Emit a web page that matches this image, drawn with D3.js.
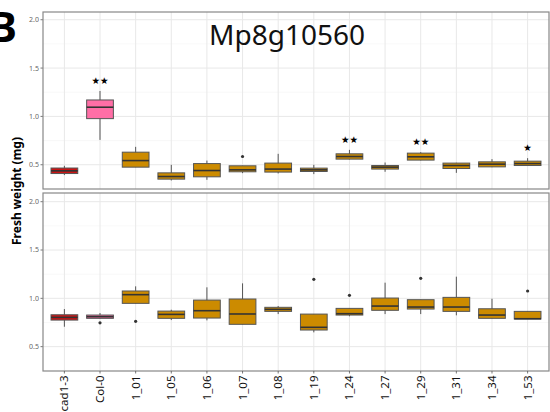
<!DOCTYPE html>
<html>
<head>
<meta charset="utf-8">
<script src="https://cdn.jsdelivr.net/npm/d3@7"></script>
<style>
  body { margin: 0; background: #fff; }
  svg { display: block; font-family: "Noto Sans", "Open Sans", sans-serif; }
</style>
</head>
<body>
<svg id="chart" width="550" height="412"></svg>
<script>
let genotypes = ['cad1-3', 'Col-0', '1_01', '1_05', '1_06', '1_07', '1_08',
  '1_19', '1_24', '1_27', '1_29', '1_31', '1_34', '1_53'];

// top panel: five number summaries
let topLow    = [0.393, 0.757, 0.475, 0.337, 0.344, 0.413, 0.410, 0.403, 0.555, 0.427, 0.545, 0.416, 0.475, 0.490];
let topQ1     = [0.409, 0.977, 0.475, 0.351, 0.375, 0.427, 0.424, 0.430, 0.558, 0.455, 0.548, 0.461, 0.478, 0.492];
let topMedian = [0.437, 1.095, 0.543, 0.378, 0.440, 0.447, 0.455, 0.447, 0.585, 0.475, 0.582, 0.492, 0.506, 0.512];
let topQ3     = [0.466, 1.170, 0.630, 0.416, 0.512, 0.489, 0.517, 0.465, 0.613, 0.492, 0.620, 0.517, 0.530, 0.537];
let topHigh   = [0.489, 1.263, 0.685, 0.499, 0.543, 0.489, 0.613, 0.499, 0.654, 0.523, 0.630, 0.520, 0.558, 0.568];
let topOutliers = [[], [], [], [], [], [0.585], [], [], [], [], [], [], [], []];
let topStars = ['', '★★', '', '', '', '', '', '', '★★', '', '★★', '', '', '★'];

// bottom panel
let bottomLow    = [0.706, 0.790, 0.948, 0.775, 0.772, 0.731, 0.837, 0.648, 0.814, 0.837, 0.837, 0.824, 0.793, 0.786];
let bottomQ1     = [0.775, 0.793, 0.948, 0.793, 0.796, 0.731, 0.865, 0.672, 0.827, 0.876, 0.889, 0.865, 0.793, 0.786];
let bottomMedian = [0.803, 0.810, 1.038, 0.834, 0.872, 0.838, 0.886, 0.700, 0.841, 0.920, 0.910, 0.910, 0.827, 0.789];
let bottomQ3     = [0.830, 0.827, 1.076, 0.868, 0.982, 0.993, 0.907, 0.837, 0.896, 1.003, 0.986, 1.010, 0.892, 0.865];
let bottomHigh   = [0.889, 0.848, 1.124, 0.882, 1.114, 1.155, 0.920, 0.837, 0.896, 1.162, 0.986, 1.224, 0.996, 0.865];
let bottomOutliers = [[], [0.747], [0.762], [], [], [], [], [1.197], [1.031], [], [1.207], [], [], [1.076]];

let yTicks = [0.5, 1.0, 1.5, 2.0];
let yMinorTicks = [0.75, 1.25, 1.75];

let svg = d3.select('#chart');

let x = d3.scalePoint().domain(genotypes).range([43, 549]).padding(0.6);
let boxWidth = x.step() * 0.75;

let fillColor = (g) => {
  if (g === 'cad1-3') {
    return '#cc1414';
  } else if (g === 'Col-0') {
    return '#ff6ea6';
  }
  return '#cc8b00';
};

let drawPanel = (top, bottom, domain, low, q1, med, q3, high, outliers, stars) => {
  let y = d3.scaleLinear().domain(domain).range([bottom, top]);
  let panel = svg.append('g');

  // grid
  panel.selectAll('.minor')
    .data(yMinorTicks)
    .enter()
    .append('line')
    .attr('x1', 43).attr('x2', 549)
    .attr('y1', (d) => y(d)).attr('y2', (d) => y(d))
    .attr('stroke', '#f3f3f3').attr('stroke-width', 0.6);

  panel.selectAll('.major')
    .data(yTicks)
    .enter()
    .append('line')
    .attr('x1', 43).attr('x2', 549)
    .attr('y1', (d) => y(d)).attr('y2', (d) => y(d))
    .attr('stroke', '#e8e8e8').attr('stroke-width', 1);

  panel.selectAll('.vgrid')
    .data(genotypes)
    .enter()
    .append('line')
    .attr('x1', (d) => x(d)).attr('x2', (d) => x(d))
    .attr('y1', top).attr('y2', bottom)
    .attr('stroke', '#e8e8e8').attr('stroke-width', 1);

  // y axis ticks
  let ticks = panel.selectAll('.ytick')
    .data(yTicks)
    .enter()
    .append('g')
    .attr('transform', (d) => 'translate(0,' + y(d) + ')');
  ticks.append('line')
    .attr('x1', 40.5).attr('x2', 43)
    .attr('stroke', '#555').attr('stroke-width', 0.8);
  ticks.append('text')
    .attr('x', 39)
    .attr('dy', '0.35em')
    .attr('text-anchor', 'end')
    .attr('font-size', 7)
    .attr('fill', '#666')
    .text((d) => d3.format('.1f')(d));

  let boxes = panel.selectAll('.box')
    .data(genotypes)
    .enter()
    .append('g');

  // whiskers
  boxes.append('line')
    .attr('x1', (d) => x(d)).attr('x2', (d) => x(d))
    .attr('y1', (d, i) => y(low[i])).attr('y2', (d, i) => y(high[i]))
    .attr('stroke', '#555').attr('stroke-width', 1);

  boxes.append('rect')
    .attr('x', (d) => x(d) - boxWidth / 2)
    .attr('width', boxWidth)
    .attr('y', (d, i) => y(q3[i]))
    .attr('height', (d, i) => Math.max(0.5, y(q1[i]) - y(q3[i])))
    .attr('fill', (d) => fillColor(d))
    .attr('stroke', '#555')
    .attr('stroke-width', 1);

  boxes.append('line')
    .attr('x1', (d) => x(d) - boxWidth / 2).attr('x2', (d) => x(d) + boxWidth / 2)
    .attr('y1', (d, i) => y(med[i])).attr('y2', (d, i) => y(med[i]))
    .attr('stroke', '#333').attr('stroke-width', 1.6);

  boxes.each(function (d, i) {
    d3.select(this).selectAll('circle')
      .data(outliers[i])
      .enter()
      .append('circle')
      .attr('cx', x(d))
      .attr('cy', (v) => y(v))
      .attr('r', 1.6)
      .attr('fill', '#333');
  });

  if (stars) {
    boxes.append('text')
      .attr('x', (d) => x(d))
      .attr('y', (d, i) => y(high[i]) - 10.5)
      .attr('dy', '0.35em')
      .attr('text-anchor', 'middle')
      .attr('font-family', 'DejaVu Sans')
      .attr('font-size', 9.5)
      .attr('fill', '#000')
      .text((d, i) => stars[i]);
  }

  // border
  panel.append('rect')
    .attr('x', 43).attr('y', top)
    .attr('width', 549 - 43).attr('height', bottom - top)
    .attr('fill', 'none')
    .attr('stroke', '#888')
    .attr('stroke-width', 1.2);

  return y;
};

drawPanel(12, 189, [0.249, 2.08], topLow, topQ1, topMedian, topQ3, topHigh, topOutliers, topStars);
drawPanel(193, 371, [0.248, 2.09], bottomLow, bottomQ1, bottomMedian, bottomQ3, bottomHigh, bottomOutliers, null);

// x axis
let xTicks = svg.selectAll('.xtick')
  .data(genotypes)
  .enter()
  .append('g')
  .attr('transform', (d) => 'translate(' + x(d) + ',371)');
xTicks.append('line')
  .attr('y1', 0).attr('y2', 2.5)
  .attr('stroke', '#555').attr('stroke-width', 0.8);
xTicks.append('text')
  .attr('transform', 'translate(0,4.5) rotate(-90)')
  .attr('dy', '0.35em')
  .attr('text-anchor', 'end')
  .attr('font-size', 11.5)
  .attr('fill', '#111')
  .text((d) => d);

// titles
svg.append('text')
  .attr('x', 287)
  .attr('y', 45)
  .attr('text-anchor', 'middle')
  .attr('font-size', 28)
  .attr('fill', '#111')
  .text('Mp8g10560');

svg.append('text')
  .attr('x', -11)
  .attr('y', 42)
  .attr('font-size', 42)
  .attr('font-weight', 'bold')
  .attr('fill', '#000')
  .text('B');

svg.append('text')
  .attr('transform', 'translate(21,191) rotate(-90)')
  .attr('text-anchor', 'middle')
  .attr('font-size', 12)
  .attr('font-weight', 'bold')
  .attr('fill', '#000')
  .text('Fresh weight (mg)');
</script>
</body>
</html>
